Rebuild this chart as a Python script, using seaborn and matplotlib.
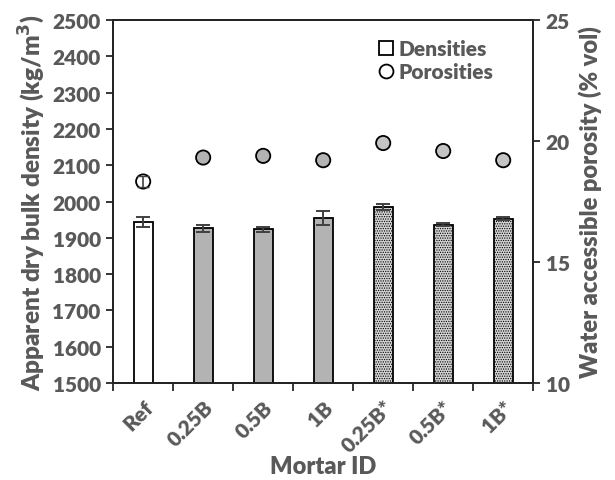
import numpy as np
import pandas as pd
import matplotlib
matplotlib.use("Agg")
import matplotlib.pyplot as plt
from matplotlib.lines import Line2D
from matplotlib.ticker import MultipleLocator, FixedLocator
import seaborn as sns

mortar_ids = ["Ref", "0.25B", "0.5B", "1B", "0.25B*", "0.5B*", "1B*"]
densities = [1944, 1926, 1924, 1954, 1985, 1936, 1953]
density_err = [14, 10, 7, 19, 9, 4, 4]
porosities = [18.33, 19.32, 19.39, 19.21, 19.92, 19.59, 19.21]
porosity_err = [0.22, 0, 0, 0, 0, 0, 0]

sns.set_style("ticks")
plt.rcParams['font.family'] = ['Lato', 'DejaVu Sans']
plt.rcParams['font.weight'] = 'heavy'
plt.rcParams['hatch.color'] = '#777777'
plt.rcParams['hatch.linewidth'] = 0.6
txt = '#595959'

df = pd.DataFrame({'id': mortar_ids, 'dens': densities, 'por': porosities})
bar_cols = ['white', '#b3b3b3', '#b3b3b3', '#b3b3b3', '#d4d4d4', '#d4d4d4', '#d4d4d4']

fig = plt.figure(figsize=(6.15, 4.81), dpi=100)
ax = fig.add_axes([0.184, 0.2017, 0.683, 0.7543])
sns.barplot(data=df, x='id', y='dens', hue='id', palette=bar_cols, legend=False,
            width=0.32, edgecolor='black', linewidth=1.3, ax=ax)
for i, p in enumerate(ax.patches):
    if i >= 4:
        p.set_hatch('.......')
ax.errorbar(np.arange(7), densities, yerr=density_err, fmt='none',
            ecolor='#404040', elinewidth=1.4, capsize=5, capthick=1.4, zorder=5)
ax.set_ylim(1500, 2500)
ax.set_xlim(-0.5, 6.5)
ax.yaxis.set_major_locator(MultipleLocator(100))
ax.set_xticks(range(7))
ax.set_xticklabels(mortar_ids, rotation=45, ha='right', rotation_mode='anchor')
ax.xaxis.set_minor_locator(FixedLocator(np.arange(-0.5, 7, 1)))
ax.tick_params(axis='x', which='major', length=0, pad=10)
ax.tick_params(axis='x', which='minor', length=6, width=1.3, direction='out')
ax.tick_params(axis='y', length=5, width=1.3, direction='out', pad=4)
ax.tick_params(labelsize=15, labelcolor=txt)
ax.set_xlabel('Mortar ID', fontsize=17, color=txt, fontweight='heavy', labelpad=0)
ax.set_ylabel('Apparent dry bulk density (kg/m$^\\mathbf{3}$)', fontsize=17.5, color=txt,
              fontweight='heavy', labelpad=4)
for s in ax.spines.values():
    s.set_linewidth(1.3)
    s.set_color('black')

ax2 = ax.twinx()
mk_cols = ['white', '#b3b3b3', '#b3b3b3', '#b3b3b3', '#c4c4c4', '#c4c4c4', '#c4c4c4']
sns.scatterplot(data=df, x='id', y='por', hue='id', palette=mk_cols, legend=False,
                s=105, edgecolor='black', linewidth=1.3, ax=ax2, zorder=3)
has_err = np.array(porosity_err) > 0
ax2.errorbar(np.arange(7)[has_err], np.array(porosities)[has_err],
             yerr=np.array(porosity_err)[has_err], fmt='none',
             ecolor='#404040', elinewidth=1.2, capsize=4, zorder=4)
ax2.set_ylim(10, 25)
ax2.yaxis.set_major_locator(MultipleLocator(5))
ax2.tick_params(axis='y', length=5, width=1.3, direction='out', labelsize=15,
                labelcolor=txt, pad=4)
ax2.set_ylabel('Water accessible porosity (% vol)', fontsize=17, color=txt,
               fontweight='heavy', labelpad=6)
ax2.set_xlim(-0.5, 6.5)
for s in ax2.spines.values():
    s.set_linewidth(1.3)

handles = [Line2D([], [], marker='s', ls='none', mfc='white', mec='black', ms=10, mew=1.3),
           Line2D([], [], marker='o', ls='none', mfc='white', mec='black', ms=10, mew=1.3)]
leg = ax2.legend(handles, ['Densities', 'Porosities'], loc='upper right',
                 bbox_to_anchor=(0.95, 1.0), frameon=False, fontsize=15,
                 handletextpad=0.1, labelspacing=0.2, handlelength=1.0)
for t in leg.get_texts():
    t.set_color(txt)

fig.savefig('out.png', dpi=100)
